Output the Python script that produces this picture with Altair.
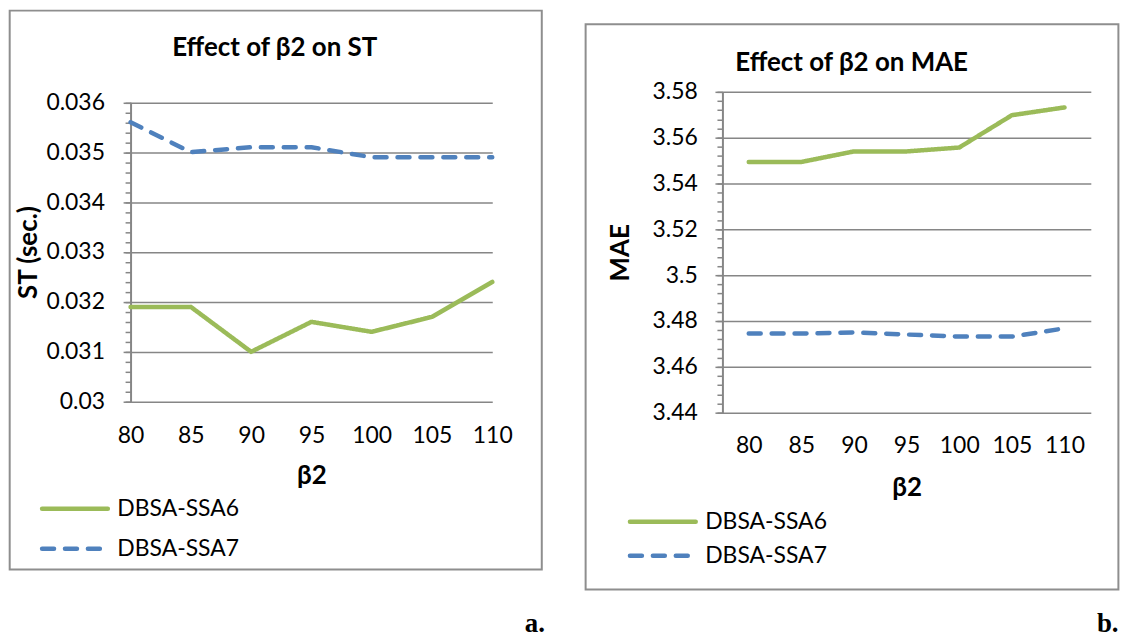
import altair as alt
import pandas as pd

# ---------------- data ----------------
beta = [80, 85, 90, 95, 100, 105, 110]
series_names = ["DBSA-SSA6", "DBSA-SSA7"]

st_ssa6 = [0.0319, 0.0319, 0.0310, 0.0316, 0.0314, 0.0317, 0.0324]
st_ssa7 = [0.0356, 0.0350, 0.0351, 0.0351, 0.0349, 0.0349, 0.0349]

mae_ssa6 = [3.5494, 3.5494, 3.5540, 3.5540, 3.5557, 3.5698, 3.5732]
mae_ssa7 = [3.4745, 3.4745, 3.4750, 3.4741, 3.4732, 3.4732, 3.4768]

st_ticks = [0.030, 0.031, 0.032, 0.033, 0.034, 0.035, 0.036]
mae_ticks = [3.44, 3.46, 3.48, 3.50, 3.52, 3.54, 3.56, 3.58]

st_minor = [round(0.030 + i * 0.0002, 4) for i in range(31)]
mae_minor = [round(3.44 + i * 0.004, 3) for i in range(36)]

GREEN = "#9BBB59"
BLUE = "#4F81BD"
GRID = "#868686"
BORDER = "#8E8E8E"
FONT = "Lato"

TICK_FS = 23
AXTITLE_FS = 26
TITLE_FS = 26
LEG_FS = 23

H = 322  # common plot-group height


def panel(v6, v7, ticks, minor, fmt, ytitle, title, letter, width, yrange,
          xpad, geo):
    df = pd.DataFrame({
        "beta": beta * 2,
        "value": v6 + v7,
        "series": [series_names[0]] * len(beta) + [series_names[1]] * len(beta),
    })
    xscale = alt.Scale(type="point", padding=xpad)
    yscale = alt.Scale(domain=[ticks[0], ticks[-1]], range=yrange,
                       zero=False, nice=False)

    x = alt.X("beta:O", scale=xscale,
              axis=alt.Axis(title="β2", labelAngle=0, ticks=False, domain=False,
                            grid=False, labelPadding=geo["xlabpad"],
                            labelFont=FONT, labelFontSize=TICK_FS, labelColor="black",
                            titleFont=FONT, titleFontSize=AXTITLE_FS,
                            titleFontWeight="bold",
                            titleColor="black", titleY=geo["xtitleY"],
                            titleBaseline="middle"))
    y = alt.Y("value:Q", scale=yscale,
              axis=alt.Axis(values=ticks, format=fmt, title=ytitle, grid=True,
                            gridColor=GRID, gridWidth=1.5, domainColor=GRID,
                            domainWidth=2, tickColor=GRID, tickWidth=1.5,
                            tickSize=7.5, labelPadding=geo["ylabpad"],
                            labelFont=FONT, labelFontSize=TICK_FS, labelColor="black",
                            titleFont=FONT, titleFontSize=AXTITLE_FS,
                            titleFontWeight="bold",
                            titleColor="black", titleX=geo["ytitleX"],
                            titleBaseline="middle", titleAngle=270, orient="left"))

    lines = alt.Chart(df).mark_line(strokeWidth=4.5, strokeCap="round",
                                    strokeJoin="round").encode(
        x=x, y=y,
        color=alt.Color("series:N",
                        scale=alt.Scale(domain=series_names, range=[GREEN, BLUE]),
                        legend=None),
        strokeDash=alt.StrokeDash("series:N",
                                  scale=alt.Scale(domain=series_names,
                                                  range=[[1, 0], [12, 11]]),
                                  legend=None),
    )

    minor_axis = alt.Chart(df).mark_line(opacity=0).encode(
        x=alt.X("beta:O", scale=xscale, axis=None),
        y=alt.Y("value:Q", axis=alt.Axis(values=minor, labels=False, grid=False,
                                          domain=False, tickSize=5.5,
                                          tickColor=GRID, tickWidth=1.5,
                                          title=None, orient="left")),
        detail="series:N",
    )

    one = alt.Data(values=[{}])
    border = alt.Chart(one).mark_rect(fillOpacity=0, stroke=BORDER,
                                      strokeWidth=2).encode(
        x=alt.value(geo["bx"][0]), x2=alt.value(geo["bx"][1]),
        y=alt.value(geo["by"][0]), y2=alt.value(geo["by"][1]))

    ttl = alt.Chart(one).mark_text(text=title, font=FONT, fontSize=TITLE_FS,
                                   fontWeight="bold", color="black",
                                   align="center", baseline="middle").encode(
        x=alt.value(geo["title"][0]), y=alt.value(geo["title"][1]))

    leg_layers = []
    for i, name in enumerate(series_names):
        ly = geo["leg_y"][i]
        x0, x1 = geo["leg_x"][i]
        rule = alt.Chart(alt.Data(values=[{"series": name}])).mark_rule(
            strokeWidth=4.5, strokeCap="round",
            color=[GREEN, BLUE][i],
            strokeDash=[[1, 0], [12, 11]][i]).encode(
            x=alt.value(x0), x2=alt.value(x1), y=alt.value(ly))
        txt = alt.Chart(alt.Data(values=[{"series": name}])).mark_text(
            font=FONT, fontSize=LEG_FS, color="black", align="left",
            baseline="middle").encode(
            text="series:N", x=alt.value(geo["leg_tx"]), y=alt.value(ly))
        leg_layers += [rule, txt]

    let = alt.Chart(one).mark_text(text=letter, font="Liberation Serif",
                                   fontSize=27, fontWeight="bold", color="black",
                                   align="center", baseline="alphabetic").encode(
        x=alt.value(geo["letter"][0]), y=alt.value(geo["letter"][1]))

    return alt.layer(lines, minor_axis, border, ttl, *leg_layers, let).resolve_axis(
        y="independent", x="independent").properties(width=width, height=H)


geo_a = dict(xlabpad=12.0, xtitleY=63.5, ylabpad=18.7, ytitleX=-102.3,
             bx=(-121.3, 412.7), by=(-81.5, 479.5), title=(144.7, -43.5),
             leg_y=(418.5, 458.5), leg_x=((-88.8, -22.8), (-88.8, -30.8)),
             leg_tx=-13.3, letter=(405.7, 542.5))
geo_b = dict(xlabpad=22.0, xtitleY=75.5, ylabpad=17.8, ytitleX=-102.3,
             bx=(-137.3, 397.4), by=(-67.8, 499.5), title=(129.7, -28.5),
             leg_y=(431.5, 465.5), leg_x=((-92.8, -26.8), (-92.8, -34.8)),
             leg_tx=-17.3, letter=(386.7, 542.5))

pa = panel(st_ssa6, st_ssa7, st_ticks, st_minor, ".3~f", "ST (sec.)",
           "Effect of β2 on ST", "a.", 363, [311, 10.5], 0, geo_a)
pb = panel(mae_ssa6, mae_ssa7, mae_ticks, mae_minor, ".2~f", "MAE",
           "Effect of β2 on MAE", "b.", 369.7, [H, 0], 0.5, geo_b)

chart = alt.hconcat(pa, pb, spacing=231, bounds="flush").properties(
    padding=0, background="white").configure_view(stroke=None)

chart.save("out.html", embed_options={"renderer": "svg", "actions": False})
